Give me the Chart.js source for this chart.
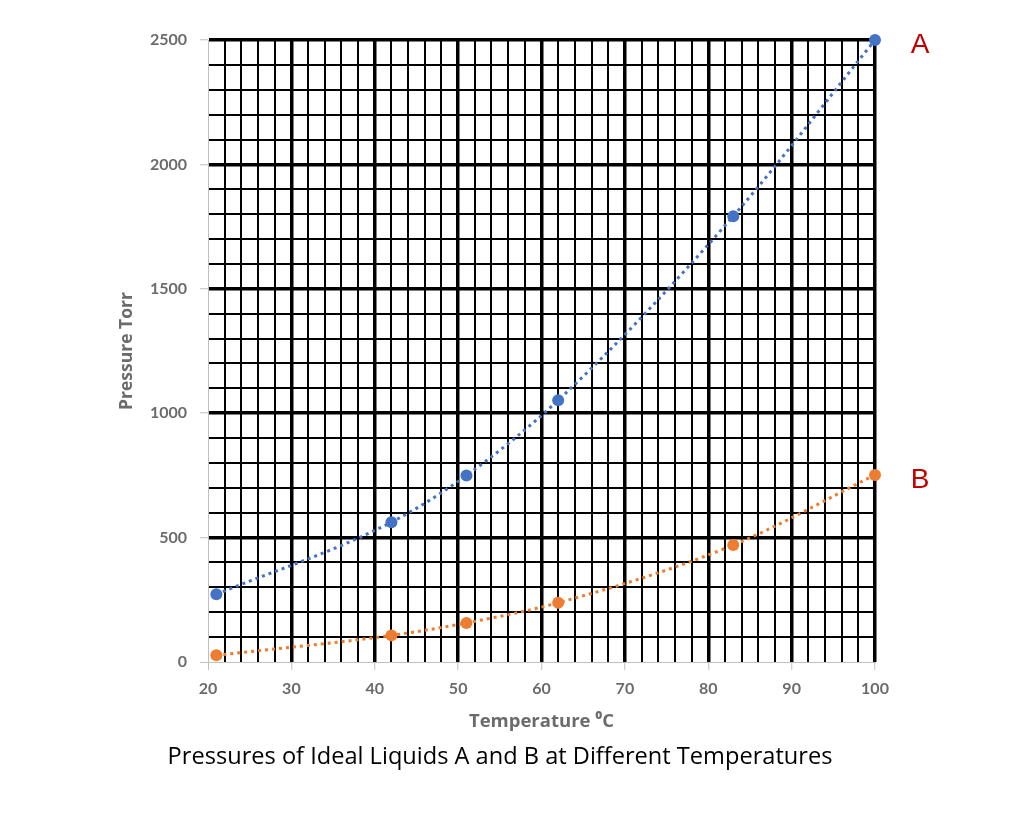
<!DOCTYPE html>
<html>
<head>
<meta charset="utf-8">
<script src="https://cdn.jsdelivr.net/npm/chart.js@4.4.0/dist/chart.umd.min.js"></script>
<style>
  html, body { margin: 0; padding: 0; background: #fff; }
  #wrap { width: 1024px; height: 816px; position: relative; }
</style>
</head>
<body>
<div id="wrap"><canvas id="myChartPressure" width="1024" height="816"></canvas></div>
<script>
const temps = [21, 42, 51, 62, 83, 100];
const pressureA = [272, 562, 750, 1052, 1792, 2500];
const pressureB = [27, 107, 157, 238, 470, 752];
const seriesLabels = ["A", "B"];
const caption = "Pressures of Ideal Liquids A and B at Different Temperatures";

const blue = "#4472c4";
const orange = "#ed7d31";
const tickGray = "#6b6b6b";
const axisGray = "#bfbfbf";

function toPoints(ys) {
  return temps.map((t, i) => ({ x: t, y: ys[i] }));
}

// red A / B labels next to the last point, plus the caption under the chart
const sideLabels = {
  id: "sideLabels",
  afterDraw(chart) {
    const ctx = chart.ctx;
    const xs = chart.scales.x;
    const ys = chart.scales.y;
    ctx.save();
    ctx.fillStyle = "#c00000";
    ctx.font = "28px 'Liberation Sans', Arial, sans-serif";
    ctx.textAlign = "center";
    ctx.textBaseline = "middle";
    chart.data.datasets.forEach((ds, i) => {
      const last = ds.data[ds.data.length - 1];
      ctx.fillText(seriesLabels[i], xs.getPixelForValue(last.x) + 45, ys.getPixelForValue(last.y) + 5);
    });
    ctx.fillStyle = "#000";
    ctx.font = "23.6px 'Open Sans', sans-serif";
    ctx.fillText(caption, 500, 757);
    ctx.restore();
  },
};

const canvas_pressure = document.getElementById("myChartPressure");
let myChart_pressure = new Chart(canvas_pressure, {
  type: "scatter",
  data: {
    datasets: [
      {
        label: seriesLabels[0],
        data: toPoints(pressureA),
        showLine: true,
        borderColor: blue,
        borderWidth: 3,
        borderDash: [3, 4],
        cubicInterpolationMode: "monotone",
        pointRadius: 6,
        pointBorderWidth: 0,
        pointBackgroundColor: blue,
        clip: false,
      },
      {
        label: seriesLabels[1],
        data: toPoints(pressureB),
        showLine: true,
        borderColor: orange,
        borderWidth: 3,
        borderDash: [3, 4],
        cubicInterpolationMode: "monotone",
        pointRadius: 6,
        pointBorderWidth: 0,
        pointBackgroundColor: orange,
        clip: false,
      },
    ],
  },
  options: {
    responsive: false,
    animation: false,
    events: [],
    layout: { padding: { left: 110, top: 40, right: 149, bottom: 74 } },
    plugins: {
      legend: { display: false },
      tooltip: { enabled: false },
    },
    scales: {
      x: {
        type: "linear",
        min: 20,
        max: 100,
        afterFit: (s) => { s.height = 80; },
        border: { display: true, color: axisGray, width: 1 },
        grid: {
          color: (c) => (c.tick.value === 20 ? axisGray : "#000"),
          lineWidth: (c) => (c.tick.value === 20 ? 1 : c.tick.value % 10 === 0 ? 3.5 : 2),
          tickColor: (c) => (c.tick.value % 10 === 0 ? axisGray : "rgba(0,0,0,0)"),
          tickWidth: 1,
          tickLength: 8,
        },
        ticks: {
          stepSize: 2,
          autoSkip: false,
          maxRotation: 0,
          padding: 9,
          color: tickGray,
          font: { family: "Lato", weight: "bold", size: 16 },
          callback: (v) => (v % 10 === 0 ? v : ""),
        },
        title: {
          display: true,
          text: "Temperature \u2070C",
          color: tickGray,
          font: { family: "'Open Sans', 'DejaVu Sans'", weight: "bold", size: 18.5 },
          padding: { top: 0, bottom: 9 },
        },
      },
      y: {
        min: 0,
        max: 2500,
        afterFit: (s) => { s.width = 98; },
        border: { display: true, color: axisGray, width: 1 },
        grid: {
          color: (c) => (c.tick.value === 0 ? axisGray : "#000"),
          lineWidth: (c) => (c.tick.value === 0 ? 1 : c.tick.value % 500 === 0 ? 3.5 : 2),
          tickColor: (c) => (c.tick.value % 500 === 0 ? axisGray : "rgba(0,0,0,0)"),
          tickWidth: 1,
          tickLength: 8,
        },
        ticks: {
          stepSize: 100,
          autoSkip: false,
          padding: 13,
          color: tickGray,
          font: { family: "Lato", weight: "bold", size: 16 },
          callback: (v) => (v % 500 === 0 ? v : ""),
        },
        title: {
          display: true,
          text: "Pressure Torr",
          color: tickGray,
          font: { family: "'Open Sans'", weight: "bold", size: 17.5 },
          padding: { top: 7, bottom: 0 },
        },
      },
    },
  },
  plugins: [sideLabels],
});
</script>
</body>
</html>
